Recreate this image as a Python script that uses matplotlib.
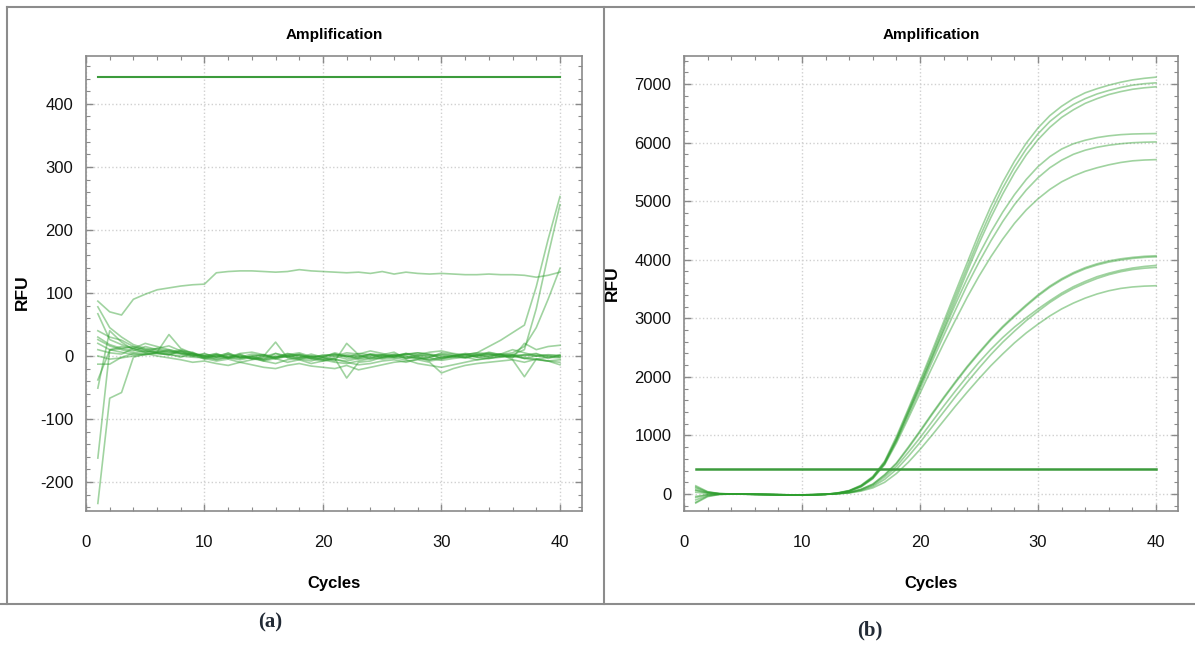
import numpy as np
import matplotlib.pyplot as plt
from matplotlib.lines import Line2D
from matplotlib.ticker import MultipleLocator

plt.rcParams['font.family'] = ['Liberation Sans', 'DejaVu Sans']
plt.rcParams['axes.unicode_minus'] = False

cycles = list(range(1, 41))

# ---- panel (a): no amplification ----
thr_a = 443
a_upper = [87, 70, 65, 90, 98, 105, 108, 111, 113, 114, 132, 134, 135, 135, 134, 133, 134, 137, 135, 134,
           133, 132, 133, 131, 134, 130, 133, 131, 130, 131, 130, 129, 129, 130, 129, 129, 128, 125, 128, 133]
a_rise1 = [78, 45, 30, 18, 12, 8, 5, 10, 4, -2, 0, -4, 2, -5, -1, 4, 0, -3, 3, -2,
           5, 0, -3, 3, 2, -1, 4, 2, 0, 3, 1, 2, 5, 15, 25, 37, 49, 110, 185, 253]
a_rise2 = [30, 18, 12, 8, 15, 10, 6, 3, 0, 4, -2, 2, -3, 0, -6, -2, 3, 0, -4, 2,
           0, -5, -2, 3, 0, 2, -4, 0, 2, -3, 0, 4, 2, -2, 3, 2, 10, 75, 160, 240]
a_rise3 = [20, 10, 15, 12, 6, 4, 2, 8, 3, 0, -3, 2, -2, 3, 0, -4, 2, 5, -1, 0,
           3, -2, 4, 2, -3, 0, 2, 5, 3, 0, -2, 2, 0, 3, 2, 5, 15, 45, 90, 139]
a_n1 = [67, 26, 18, 12, 8, 6, 10, 5, 3, -2, 2, -4, 0, -3, -5, 4, -2, -6, 0, -3,
        -8, 20, 2, -5, -3, 0, 4, -2, -6, -3, 0, 2, 5, 3, -1, 0, 2, 4, -4, 2]
a_n2 = [40, 30, 25, 15, 10, 12, 8, 4, 0, 3, -2, 5, -3, -1, 2, -5, 0, 3, -2, -6,
        -4, -35, -10, -8, -2, 3, 0, -4, -2, 5, 3, -2, 0, 6, 2, -3, 20, 10, 15, 17]
a_n3 = [26, 16, 10, 5, 8, 6, 34, 12, 4, 0, -6, -2, 3, -4, 0, 22, -3, -5, -8, -2,
        2, 0, -5, -3, 2, 6, -4, -2, -8, -5, 0, -3, 2, 0, 3, -6, -33, -5, -8, -14]
a_n4 = [-13, -13, -2, 4, 2, 6, 3, -2, 5, 0, 4, -3, -6, -2, -8, -4, -10, -6, -12, -8,
        -5, -10, -14, -12, -8, -6, -10, -5, -3, -7, -4, -2, -6, -3, -1, 2, -4, 0, -2, 0]
a_n5 = [-38, 9, 12, 15, 10, 5, 2, 8, 6, -4, -8, -5, -10, -6, -3, 0, -2, 2, -4, -6,
        -10, -12, -8, -4, 0, -2, 3, 5, 2, -4, -2, -1, 3, 5, 2, 0, -3, -5, -2, -3]
a_n6 = [-51, 40, 22, 10, 5, 12, 16, 8, 0, -3, 2, -2, 4, 6, 2, -2, 4, 0, -3, -5,
        0, 5, 3, 8, 4, 0, -3, 2, 6, 8, 4, 2, -2, 0, 3, 10, 5, 0, 2, 1]
a_n7 = [-162, 10, 6, 2, 4, 0, -3, -6, -10, -8, -12, -15, -10, -14, -18, -20, -15, -12, -16, -18,
        -20, -15, -22, -18, -14, -10, -8, -6, -10, -27, -20, -15, -12, -10, -8, -6, -10, -5, -8, -6]
a_n8 = [-234, -67, -58, -2, 3, 5, 8, 4, 2, 0, 3, -2, -4, 0, 2, -3, 0, 2, -2, 0,
        3, -1, 0, 2, -2, 1, 3, 0, -2, 2, 0, -3, 1, 3, 0, -2, 2, 0, 1, 0]
a_n9 = [10, 5, 3, 12, 20, 15, 10, 6, 2, -5, 0, 4, -2, -4, -8, -12, -6, -3, 0, -2,
        -6, -8, -4, 0, 2, -3, -6, -12, -15, -18, -14, -10, -6, -4, -2, 0, -4, -6, -8, -10]
a_n10 = [0, -5, -3, 0, 2, 4, 2, 0, -2, -3, -5, -2, 0, -4, -6, -2, 0, -3, -5, -8,
         -3, 2, 0, -2, -5, -3, -1, -4, -6, -2, 0, 3, -2, -4, 0, 2, 0, 3, 0, -2]

# ---- panel (b): amplification curves ----
thr_b = 430
b_A = [60, 20, 5, 0, 0, -5, -10, -15, -20, -20, -15, -5, 20, 60, 150, 300, 560, 980, 1450, 1930,
       2430, 2940, 3450, 3950, 4450, 4910, 5320, 5680, 5990, 6250, 6460, 6620, 6750, 6850, 6920, 6980, 7030, 7070, 7097, 7117]
b_B = [140, 40, 8, 2, -2, -6, -10, -14, -18, -18, -14, -6, 15, 55, 140, 285, 540, 950, 1420, 1890,
       2380, 2880, 3380, 3870, 4360, 4810, 5220, 5580, 5890, 6150, 6360, 6520, 6650, 6750, 6830, 6890, 6940, 6980, 7005, 7020]
b_C = [-60, -10, 0, 3, 0, -4, -8, -12, -15, -16, -12, -4, 12, 50, 130, 270, 515, 920, 1390, 1850,
       2330, 2820, 3310, 3800, 4280, 4720, 5120, 5480, 5790, 6050, 6260, 6430, 6560, 6670, 6750, 6820, 6870, 6910, 6935, 6952]
b_D = [100, 30, 6, 0, -2, -5, -8, -12, -16, -16, -12, -5, 15, 55, 140, 290, 540, 930, 1380, 1840,
       2310, 2780, 3240, 3680, 4090, 4470, 4810, 5110, 5370, 5590, 5760, 5890, 5980, 6040, 6085, 6115, 6135, 6146, 6151, 6154]
b_E = [-100, -25, -4, 2, 0, -4, -8, -12, -15, -15, -11, -4, 12, 50, 130, 275, 520, 900, 1340, 1790,
       2250, 2700, 3140, 3570, 3960, 4320, 4650, 4940, 5190, 5400, 5570, 5700, 5800, 5870, 5920, 5955, 5980, 5997, 6006, 6011]
b_F = [30, 10, 2, 0, -3, -6, -9, -13, -16, -17, -13, -6, 10, 45, 120, 260, 500, 870, 1290, 1720,
       2150, 2570, 2970, 3360, 3720, 4050, 4350, 4620, 4850, 5040, 5200, 5330, 5430, 5510, 5570, 5620, 5660, 5688, 5702, 5709]
b_G = [-140, -35, -6, 0, -2, -5, -8, -12, -15, -15, -12, -6, 8, 30, 80, 170, 330, 530, 800, 1080,
       1370, 1650, 1920, 2180, 2420, 2650, 2860, 3050, 3230, 3400, 3550, 3675, 3780, 3865, 3930, 3980, 4015, 4040, 4058, 4068]
b_G2 = [-40, -10, -2, 0, -3, -6, -9, -12, -15, -15, -11, -5, 8, 28, 78, 165, 320, 515, 780, 1060,
        1350, 1630, 1900, 2160, 2400, 2630, 2840, 3030, 3210, 3380, 3530, 3655, 3760, 3845, 3910, 3960, 3995, 4022, 4040, 4050]
b_H = [120, 35, 6, 0, -2, -5, -8, -11, -14, -14, -11, -5, 6, 25, 70, 150, 290, 470, 710, 960,
       1230, 1500, 1760, 2010, 2250, 2470, 2670, 2850, 3010, 3160, 3300, 3430, 3540, 3630, 3710, 3770, 3820, 3858, 3885, 3903]
b_I = [-154, -45, -8, -1, -3, -6, -9, -12, -15, -15, -12, -5, 5, 22, 60, 130, 250, 420, 640, 880,
       1140, 1400, 1660, 1910, 2150, 2380, 2590, 2780, 2960, 3120, 3270, 3400, 3510, 3600, 3680, 3745, 3795, 3832, 3855, 3869]
b_J = [70, 20, 3, 0, -2, -5, -8, -11, -14, -14, -11, -6, 3, 18, 50, 105, 200, 350, 540, 760,
       1000, 1250, 1500, 1740, 1970, 2190, 2390, 2580, 2750, 2900, 3040, 3160, 3260, 3345, 3415, 3470, 3510, 3535, 3549, 3556]

series_a = [a_upper, a_rise1, a_rise2, a_rise3, a_n1, a_n2, a_n3, a_n4, a_n5, a_n6, a_n7, a_n8, a_n9, a_n10]
series_b = [b_A, b_B, b_C, b_D, b_E, b_F, b_G, b_G2, b_H, b_I, b_J]

line_col = '#2e9e2e'
thr_col = '#3c9b3c'
gray = '#8a8a8a'

fig = plt.figure(figsize=(11.95, 6.46), dpi=100)
ax1 = fig.add_axes([86 / 1195, 1 - 511 / 646, 496 / 1195, 455 / 646])
ax2 = fig.add_axes([684 / 1195, 1 - 511 / 646, 494 / 1195, 455 / 646])


def style(ax, ylim, ymaj, ymin):
    ax.set_xlim(0, 41.86)
    ax.set_ylim(*ylim)
    ax.xaxis.set_major_locator(MultipleLocator(10))
    ax.xaxis.set_minor_locator(MultipleLocator(2))
    ax.yaxis.set_major_locator(MultipleLocator(ymaj))
    ax.yaxis.set_minor_locator(MultipleLocator(ymin))
    ax.tick_params(which='both', top=True, right=True, direction='in', color=gray,
                   labelsize=12, labelcolor='#111111')
    ax.tick_params(which='major', length=5, width=1)
    ax.tick_params(which='minor', length=3, width=0.8)
    ax.tick_params(axis='x', which='major', pad=17)
    ax.tick_params(axis='y', which='major', pad=9)
    for s in ax.spines.values():
        s.set_color(gray)
        s.set_linewidth(1.2)
    ax.grid(True, which='major', color='#d0d0d0', linestyle=':', linewidth=1)
    ax.set_axisbelow(True)
    ax.set_title('Amplification', fontsize=11, fontweight='bold', pad=12)
    ax.set_xlabel('Cycles', fontsize=12, fontweight='bold')
    ax.set_ylabel('RFU', fontsize=12.5, fontweight='bold')
    ax.xaxis.set_label_coords(0.5, -0.143)


style(ax1, (-246, 476), 100, 20)
ax1.yaxis.set_label_coords(-0.113, 0.48)
for s in series_a:
    ax1.plot(cycles, s, color=line_col, alpha=0.45, lw=1.2)
ax1.plot([cycles[0], cycles[-1]], [thr_a, thr_a], color=thr_col, lw=1.5)

style(ax2, (-290, 7478), 1000, 200)
ax2.yaxis.set_label_coords(-0.13, 0.5)
for s in series_b:
    ax2.plot(cycles, s, color=line_col, alpha=0.45, lw=1.2)
ax2.plot([cycles[0], cycles[-1]], [thr_b, thr_b], color=thr_col, lw=1.8)

# panel frames
W, H = 1195, 646
def fline(x0, y0, x1, y1):
    fig.add_artist(Line2D([x0 / W, x1 / W], [1 - y0 / H, 1 - y1 / H], color='#8c8c8c', lw=1.5))

fline(7, 7, 1195, 7)
fline(7, 7, 7, 604)
fline(604, 7, 604, 604)
fline(0, 604, 1195, 604)

fig.text(270 / W, 1 - 622 / H, '(a)', ha='center', va='center', fontsize=15,
         fontweight='bold', family='Liberation Serif', color='#222a35')
fig.text(870 / W, 1 - 630 / H, '(b)', ha='center', va='center', fontsize=15,
         fontweight='bold', family='Liberation Serif', color='#222a35')

fig.savefig('out.png', dpi=100)
